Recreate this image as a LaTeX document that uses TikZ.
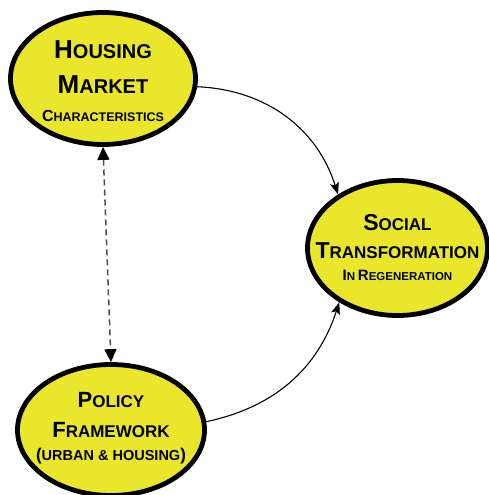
\documentclass[tikz,border=0pt]{standalone}
\usepackage{fontspec}
\setmainfont{Liberation Sans}
\usetikzlibrary{arrows.meta,shapes.geometric}
\definecolor{blobyellow}{RGB}{234,230,44}
% fake small caps: first letter large, the rest smaller
\newcommand{\capsword}[4]{{\fontsize{#3}{#3}\selectfont #1}{\fontsize{#4}{#4}\selectfont #2}}

\begin{document}
\begin{tikzpicture}[x=1pt, y=-1pt,
    blob/.style={ellipse, draw=black, line width=4.8pt, fill=blobyellow, inner sep=0pt},
    blobtext/.style={align=center, font=\bfseries, inner sep=0pt},
    link/.style={line width=1.1pt, -{Stealth[length=12pt, width=9pt, inset=2.5pt]}}]
    \useasboundingbox (0,0) rectangle (488,495);
    \node[blob, minimum width=185pt, minimum height=132pt] (house) at (103,78.5) {};
    \node[blob, minimum width=180pt, minimum height=135pt] (social) at (397.5,248) {};
    \node[blob, minimum width=187pt, minimum height=131pt] (policy) at (111,430) {};
    \node[blobtext] (housetxt) at (103,81) {\capsword{H}{OUSING}{26}{20}\\[16pt]
      \capsword{M}{ARKET}{26}{20}\\[16pt]
      \capsword{C}{HARACTERISTICS}{16}{12.5}};
    \node[blobtext] (socialtxt) at (397.5,247.5) {\capsword{S}{OCIAL}{23}{17}\\[11pt]
      \capsword{T}{RANSFORMATION}{23}{17}\\[10pt]
      \capsword{I}{N}{15}{11.5} \capsword{R}{EGENERATION}{15}{11.5}};
    \node[blobtext] (policytxt) at (111,428.5) {\capsword{P}{OLICY}{22}{17}\\[13pt]
      \capsword{F}{RAMEWORK}{22}{17}\\[10pt]
      \capsword{(}{URBAN \& HOUSING}{17}{14.5}{\fontsize{17}{17}\selectfont )}};
    \draw[link] (house.-5) to[bend left=35] (social.138);
    \draw[link] (policy.5) to[bend right=30] (social.223);
    \draw[gray!60!black, line width=1.5pt, dash pattern=on 6pt off 4pt,
      {Triangle[black, length=13pt, width=12pt]}-{Triangle[black, length=13pt, width=12pt]}]
      (house.south) -- (policy.north);
\end{tikzpicture}
\end{document}
